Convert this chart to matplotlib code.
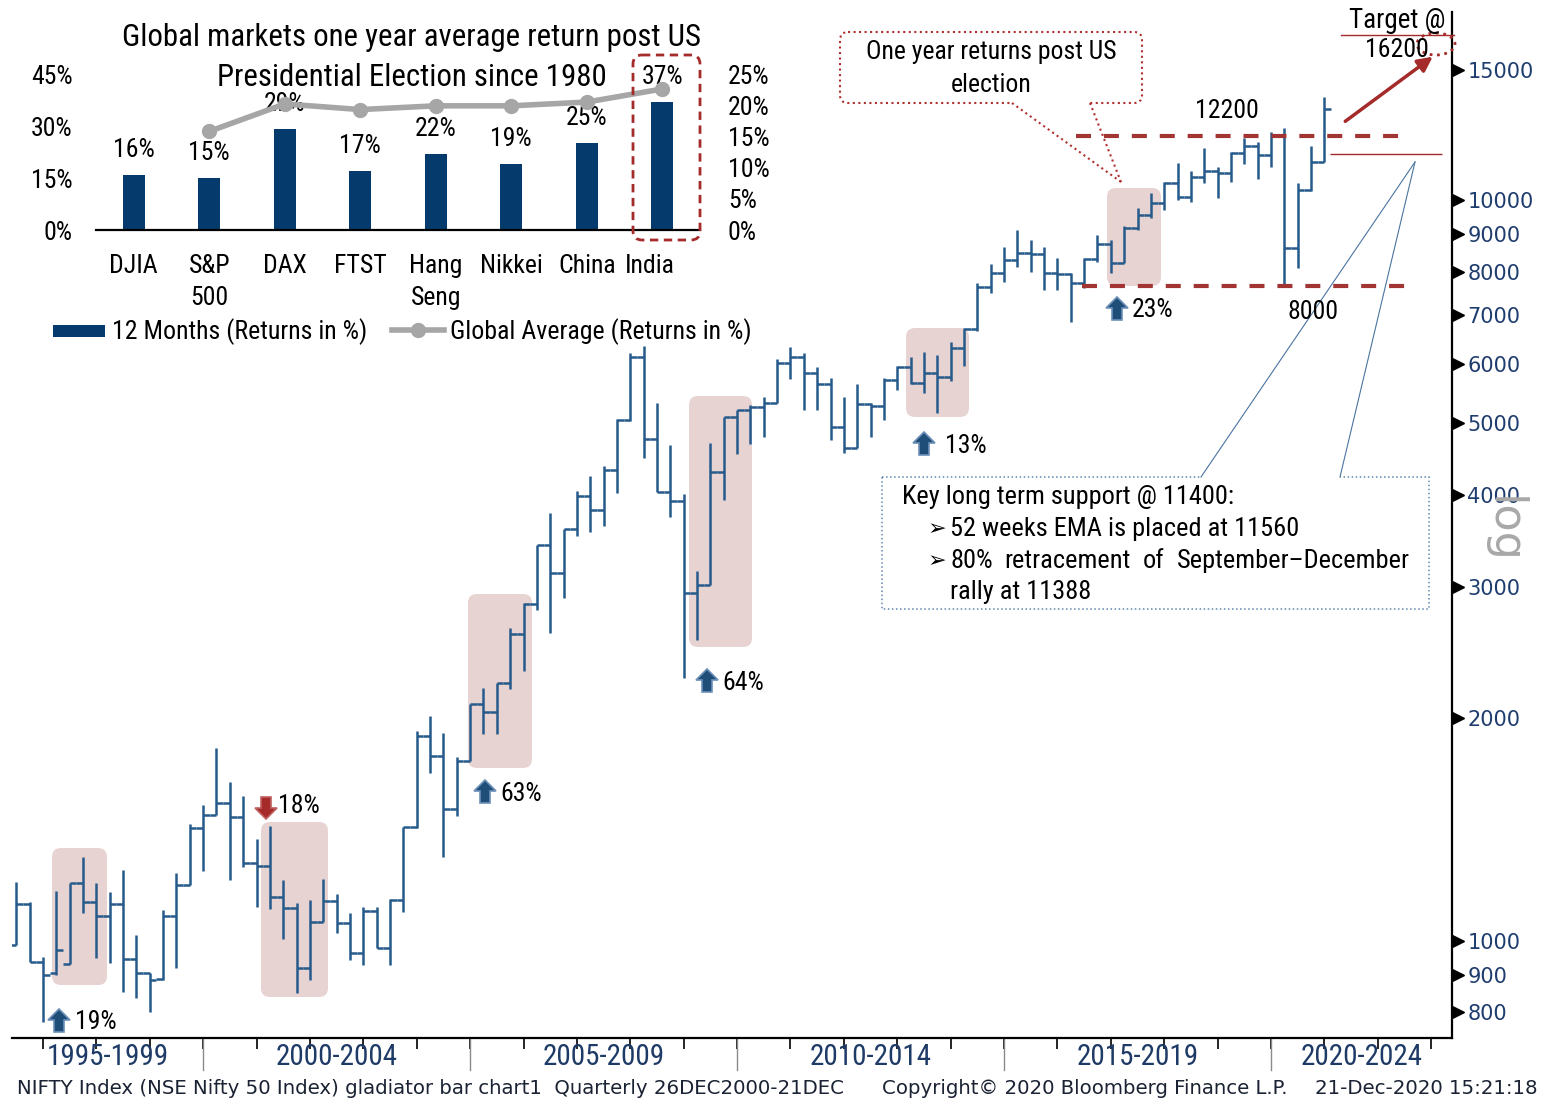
import numpy as np
import matplotlib
matplotlib.use('Agg')
import matplotlib.pyplot as plt
import matplotlib.transforms as mtransforms
from matplotlib.collections import LineCollection
from matplotlib.patches import FancyBboxPatch, FancyArrow, Ellipse, Rectangle

# ---------------- data ----------------
periods = [
    "1996Q2", "1996Q3", "1996Q4",
    "1997Q1", "1997Q2", "1997Q3", "1997Q4",
    "1998Q1", "1998Q2", "1998Q3", "1998Q4",
    "1999Q1", "1999Q2", "1999Q3", "1999Q4",
    "2000Q1", "2000Q2", "2000Q3", "2000Q4",
    "2001Q1", "2001Q2", "2001Q3", "2001Q4",
    "2002Q1", "2002Q2", "2002Q3", "2002Q4",
    "2003Q1", "2003Q2", "2003Q3", "2003Q4",
    "2004Q1", "2004Q2", "2004Q3", "2004Q4",
    "2005Q1", "2005Q2", "2005Q3", "2005Q4",
    "2006Q1", "2006Q2", "2006Q3", "2006Q4",
    "2007Q1", "2007Q2", "2007Q3", "2007Q4",
    "2008Q1", "2008Q2", "2008Q3", "2008Q4",
    "2009Q1", "2009Q2", "2009Q3", "2009Q4",
    "2010Q1", "2010Q2", "2010Q3", "2010Q4",
    "2011Q1", "2011Q2", "2011Q3", "2011Q4",
    "2012Q1", "2012Q2", "2012Q3", "2012Q4",
    "2013Q1", "2013Q2", "2013Q3", "2013Q4",
    "2014Q1", "2014Q2", "2014Q3", "2014Q4",
    "2015Q1", "2015Q2", "2015Q3", "2015Q4",
    "2016Q1", "2016Q2", "2016Q3", "2016Q4",
    "2017Q1", "2017Q2", "2017Q3", "2017Q4",
    "2018Q1", "2018Q2", "2018Q3", "2018Q4",
    "2019Q1", "2019Q2", "2019Q3", "2019Q4",
    "2020Q1", "2020Q2", "2020Q3", "2020Q4",
]
opens = [
    988, 1122, 937,
    905, 931, 1198, 1129,
    1081, 1122, 946, 905,
    888, 1081, 1190, 1420,
    1479, 1536, 1470, 1274,
    1263, 1147, 1108, 920,
    1061, 1132, 1058, 963,
    1098, 978, 1136, 1425,
    1891, 1777, 1507, 1746,
    2088, 2035, 2226, 2594,
    2850, 3418, 3135, 3594,
    3986, 3816, 4321, 5047,
    6141, 4759, 4040, 3925,
    2951, 3023, 4291, 5101,
    5207, 5251, 5326, 6020,
    6150, 5837, 5646, 4944,
    4623, 5305, 5278, 5717,
    5957, 5670, 5848, 5775,
    6318, 6704, 7624, 7963,
    8299, 8491, 8448, 7978,
    7946, 7720, 8318, 8713,
    8231, 9173, 9545, 9898,
    10552, 10104, 10750, 10953,
    10887, 11584, 11826, 11512,
    12197, 8608, 10316, 11264,
]
highs = [
    1201, 1129, 951,
    1168, 1198, 1298, 1198,
    1165, 1247, 1019, 905,
    1101, 1235, 1439, 1526,
    1822, 1639, 1569, 1373,
    1430, 1208, 1125, 1136,
    1213, 1157, 1091, 1111,
    1111, 1139, 1425, 1920,
    2012, 1909, 1770, 2088,
    2195, 2226, 2647, 2856,
    3422, 3778, 3594, 4049,
    4246, 4375, 5058, 6218,
    6353, 5326, 4671, 4008,
    3161, 4696, 5101, 5207,
    5288, 5427, 6095, 6339,
    6210, 5957, 5747, 5416,
    5646, 5316, 5747, 5977,
    6144, 6243, 6178, 6427,
    6730, 7734, 8196, 8650,
    9111, 8831, 8650, 8344,
    7978, 8344, 8971, 8831,
    9223, 9745, 10209, 10585,
    11226, 10953, 11764, 11092,
    11620, 12147, 11990, 12366,
    12498, 10552, 11826, 13786,
]
lows = [
    988, 937, 777,
    900, 931, 1091, 949,
    934, 853, 838, 802,
    886, 919, 1190, 1243,
    1479, 1208, 1259, 1111,
    1105, 1006, 851, 886,
    1061, 1025, 943, 928,
    978, 928, 1094, 1420,
    1685, 1298, 1475, 1746,
    1903, 1903, 2186, 2314,
    2797, 2602, 2901, 3520,
    3568, 3631, 4020, 5040,
    4485, 4040, 3738, 2262,
    2548, 3023, 3937, 4542,
    4685, 4793, 5326, 5729,
    5207, 5207, 4744, 4552,
    4623, 4793, 5048, 5550,
    5646, 5495, 5154, 5700,
    5970, 6650, 7497, 7758,
    8128, 8001, 7560, 7560,
    6851, 7600, 8250, 7963,
    8215, 9111, 9450, 9690,
    10000, 9950, 10557, 10053,
    10585, 11207, 10664, 11090,
    7654, 8087, 10300, 11250,
]
closes = [
    1122, 937, 900,
    972, 1198, 1129, 1081,
    1122, 946, 905, 886,
    1081, 1190, 1420, 1479,
    1536, 1470, 1274, 1263,
    1147, 1108, 920, 1061,
    1132, 1058, 963, 1098,
    978, 1136, 1425, 1891,
    1777, 1507, 1746, 2088,
    2035, 2226, 2594, 2850,
    3418, 3135, 3594, 3986,
    3816, 4321, 5047, 6141,
    4759, 4040, 3925, 2951,
    3023, 4291, 5101, 5207,
    5251, 5326, 6020, 6150,
    5837, 5646, 4944, 4623,
    5305, 5278, 5717, 5957,
    5670, 5848, 5775, 6318,
    6704, 7624, 7963, 8299,
    8491, 8448, 7978, 7946,
    7720, 8318, 8713, 8231,
    9173, 9545, 9898, 10552,
    10104, 10750, 10953, 10887,
    11584, 11826, 11512, 12197,
    8608, 10316, 11264, 13297,
]
y_ticks = [800, 900, 1000, 2000, 3000, 4000, 5000, 6000, 7000, 8000, 9000, 10000, 15000]
year_groups = ["1995-1999", "2000-2004", "2005-2009", "2010-2014", "2015-2019", "2020-2024"]
group_starts = [1995, 2000, 2005, 2010, 2015, 2020]
resistance_level = 12200
support_level = 7650
ema_level = 11560

markets = ["DJIA", "S&P\n500", "DAX", "FTST", "Hang\nSeng", "Nikkei", "China", "India"]
returns_12m = [16, 15, 29, 17, 22, 19, 25, 37]
global_avg = [np.nan, 15.8, 20.2, 19.3, 19.9, 19.9, 20.5, 22.6]
left_ticks = [0, 15, 30, 45]
right_ticks = [0, 5, 10, 15, 20, 25]

# ---------------- fonts ----------------
NARROW = ['Roboto Condensed', 'DejaVu Sans']
plt.rcParams['font.family'] = NARROW

W, H = 1543, 1100
fig = plt.figure(figsize=(W / 100, H / 100), dpi=100)

# background overlay (pink highlight boxes)
bg = fig.add_axes([0, 0, 1, 1], zorder=0)
bg.set_xlim(0, W); bg.set_ylim(H, 0); bg.axis('off')
pink_boxes = [(52, 848, 107, 985), (261, 822, 328, 997), (468, 594, 532, 768),
              (689, 396, 752, 647), (906, 328, 969, 417), (1107, 188, 1161, 286)]
for x0, y0, x1, y1 in pink_boxes:
    bg.add_patch(FancyBboxPatch((x0, y0), x1 - x0, y1 - y0,
                                boxstyle="round,pad=0,rounding_size=9",
                                fc='#e8d3d3', ec='none'))

# ---------------- main chart ----------------
L, R, T, B = 12, 1452, 12, 1038
ax = fig.add_axes([L / W, 1 - B / H, (R - L) / W, (B - T) / H], zorder=1)
ax.patch.set_alpha(0)
ax.set_yscale('log')
ax.set_ylim(739, 17950)
ax.set_xlim(1996.42, 2023.39)

xs = np.array([int(p[:4]) + int(p[5]) / 4.0 for p in periods])
hw = 0.125
segs = []
for x, o, h, l, c in zip(xs, opens, highs, lows, closes):
    segs.append([(x, l), (x, h)])
    segs.append([(x - hw, o), (x, o)])
    segs.append([(x, c), (x + hw, c)])
ax.add_collection(LineCollection(segs, colors='#255a8b', linewidths=1.8, capstyle='butt'))

for s in ['top', 'left']:
    ax.spines[s].set_visible(False)
ax.spines['bottom'].set_linewidth(1.6)
ax.spines['right'].set_linewidth(1.6)

ax.yaxis.tick_right()
ax.set_yticks(y_ticks)
ax.set_yticklabels([str(v) for v in y_ticks])
ax.yaxis.set_minor_locator(matplotlib.ticker.NullLocator())
ax.tick_params(axis='y', length=0, pad=11, labelsize=15, labelcolor='#1f3c6e')
for lab in ax.get_yticklabels():
    lab.set_fontfamily(['DejaVu Sans'])
trans_y = mtransforms.blended_transform_factory(ax.transAxes, ax.transData)
ax.plot([1.0043] * len(y_ticks), y_ticks, linestyle='none', marker='>', ms=8,
        color='black', transform=trans_y, clip_on=False)

ax.set_xticks(range(1997, 2024))
ax.set_xticklabels([])
ax.tick_params(axis='x', length=8, width=1.2, color='black', direction='out')
trans_x = mtransforms.blended_transform_factory(ax.transData, ax.transAxes)
for s in group_starts[1:]:
    ax.plot([s, s], [0, -0.031], transform=trans_x, clip_on=False, color='#8a8a8a', lw=1)
xmin, xmax = ax.get_xlim()
for s, lab in zip(group_starts, year_groups):
    c = (max(s, xmin) + min(s + 5, xmax)) / 2
    ax.text(c, -0.0185, lab, transform=trans_x, ha='center', va='center',
            fontsize=21, color='#1e3a66')

# support / resistance lines
ax.hlines(resistance_level, 2016.35, 2022.47, colors='#a33434', lw=3, linestyles=[(0, (3.6, 3.1))])
ax.hlines(support_level, 2016.46, 2022.57, colors='#a33434', lw=3, linestyles=[(0, (3.6, 3.1))])
ax.hlines(ema_level, 2021.1, 2023.2, colors='#a52a2a', lw=1)

# ---------------- foreground overlay ----------------
ov = fig.add_axes([0, 0, 1, 1], zorder=3)
ov.set_xlim(0, W); ov.set_ylim(H, 0); ov.axis('off')

def up_arrow(cx, y0, y1, fc, ec):
    ov.add_patch(FancyArrow(cx, y0, 0, y1 - y0, width=10, head_width=22, head_length=11,
                            length_includes_head=True, fc=fc, ec=ec, lw=1.2))

BLUE_A, BLUE_E = '#1f4e79', '#6d8fb8'
for cx, y0, y1, tx, ty, t in [(59, 1032, 1009, 75, 1022, '19%'),
                              (485, 803, 780, 500, 794, '63%'),
                              (707, 692, 669, 722, 683, '64%'),
                              (924, 455, 432, 945, 446, '13%'),
                              (1117, 320, 297, 1132, 310, '23%')]:
    up_arrow(cx, y0, y1, BLUE_A, BLUE_E)
    ov.text(tx, ty, t, ha='left', va='center', fontsize=18.5, color='black')
up_arrow(266, 797, 819, '#a52a2a', '#c06060')
ov.text(278, 806, '18%', ha='left', va='center', fontsize=18.5, color='black')

# callout 1
ov.add_patch(FancyBboxPatch((840, 32), 302, 71, boxstyle="round,pad=0,rounding_size=8",
                            fc='none', ec='#b03030', lw=1.5, ls=':'))
ov.plot([1014, 1088], [103, 103], color='white', lw=3)
ov.plot([1012, 1121], [103, 182], color='#b03030', lw=1.5, ls=':')
ov.plot([1090, 1121], [103, 182], color='#b03030', lw=1.5, ls=':')
ov.text(991, 52, 'One year returns post US', ha='center', va='center', fontsize=18.5)
ov.text(991, 85, 'election', ha='center', va='center', fontsize=18.5)

ov.text(1227, 111, '12200', ha='center', va='center', fontsize=18.5)
ov.text(1313, 312, '8000', ha='center', va='center', fontsize=18.5)

# target
ov.text(1397, 20, 'Target @', ha='center', va='center', fontsize=19.5)
ov.plot([1341, 1454], [34.5, 34.5], color='#a52a2a', lw=1)
ov.text(1397, 50, '16200', ha='center', va='center', fontsize=18.5)
ov.add_patch(Ellipse((1436, 44), 38, 22, fc='none', ec='#a52a2a', lw=2, ls=':'))
ov.annotate('', xy=(1435, 55), xytext=(1343, 123),
            arrowprops=dict(arrowstyle='-|>', color='#a52a2a', lw=2.5, mutation_scale=22))

# callout 2
ov.add_patch(Rectangle((882, 477), 547, 132, fc='white', ec='#5f86b0', lw=1.1, ls=':'))
ov.plot([1203, 1338], [477, 477], color='white', lw=2.5)
ov.plot([1201, 1415], [477, 162], color='#4a74a0', lw=0.8)
ov.plot([1340, 1415], [477, 162], color='#4a74a0', lw=0.8)
ov.text(902, 497, 'Key long term support @ 11400:', ha='left', va='center', fontsize=19)
ov.text(928, 529, '\u27a2', ha='left', va='center', fontsize=16, family=['DejaVu Sans'])
ov.text(950, 529, '52 weeks EMA is placed at 11560', ha='left', va='center', fontsize=19)
ov.text(928, 561, '\u27a2', ha='left', va='center', fontsize=16, family=['DejaVu Sans'])
# justified line: spread words between x=950 and x=1410
words = ['80%', 'retracement', 'of', 'September\u2013December']
wtexts = [ov.text(950, 561, w, ha='left', va='center', fontsize=19) for w in words]
renderer = fig.canvas.get_renderer()
widths = [t.get_window_extent(renderer).width for t in wtexts]
gap = (1410 - 950 - sum(widths)) / (len(words) - 1)
xpos = 950.0
for t, wd in zip(wtexts, widths):
    t.set_x(xpos)
    xpos += wd + gap
ov.text(950, 592, 'rally at 11388', ha='left', va='center', fontsize=19)

# log label
ov.text(1503, 530, 'log', rotation=-90, ha='center', va='center', fontsize=32,
        color='#a8a8a8', family=['DejaVu Sans'])

# footer
FOOT = dict(ha='left', va='center', fontsize=14.2, color='#1a2233', family=['DejaVu Sans'])
ov.text(17, 1088, 'NIFTY Index (NSE Nifty 50 Index) gladiator bar chart1  Quarterly 26DEC2000-21DEC', **FOOT)
ov.text(882, 1088, 'Copyright\u00a9 2020 Bloomberg Finance L.P.', **FOOT)
FOOT['ha'] = 'right'
ov.text(1538, 1088, '21-Dec-2020 15:21:18', **FOOT)

# ---------------- inset chart ----------------
ax_in = fig.add_axes([96 / W, 1 - 230 / H, 604 / W, 156 / H], zorder=4)
ax_in.patch.set_alpha(0)
xi = np.arange(len(markets))
ax_in.bar(xi, returns_12m, width=0.29, color='#053b6c')
ax_in.set_xlim(-0.5, len(markets) - 0.5)
ax_in.set_ylim(0, 45)
ax_in.set_yticks(left_ticks)
ax_in.set_yticklabels([f'{v}%' for v in left_ticks])
ax_in.tick_params(axis='y', length=0, pad=17, labelsize=18.5)
ax_in.set_xticks([])
for s in ['top', 'left', 'right']:
    ax_in.spines[s].set_visible(False)
ax_in.spines['bottom'].set_linewidth(1.6)
for i, v in enumerate(returns_12m):
    ax_in.annotate(f'{v}%', (i, v), xytext=(0, 18), textcoords='offset points',
                   ha='center', va='center', fontsize=18.5)
trans_c = mtransforms.blended_transform_factory(ax_in.transData, ax_in.transAxes)
for i, m in enumerate(markets):
    dx = -0.16 if m == 'India' else 0
    for k, part in enumerate(m.split('\n')):
        ax_in.text(i + dx, -(36 + 32 * k) / 156, part, transform=trans_c, ha='center',
                   va='center', fontsize=18.5)

ax_r = ax_in.twinx()
ax_r.set_ylim(0, 25)
ax_r.plot(xi, global_avg, color='#a6a6a6', lw=4, marker='o', ms=10)
ax_r.set_yticks(right_ticks)
ax_r.set_yticklabels([f'{v}%' for v in right_ticks])
ax_r.tick_params(axis='y', length=0, pad=20, labelsize=18.5)
for s in ax_r.spines.values():
    s.set_visible(False)

# India highlight box, title, legend
ov2 = fig.add_axes([0, 0, 1, 1], zorder=5)
ov2.set_xlim(0, W); ov2.set_ylim(H, 0); ov2.axis('off')
ov2.add_patch(FancyBboxPatch((633, 55), 67, 185, boxstyle="round,pad=0,rounding_size=9",
                             fc='none', ec='#a52a2a', lw=2, ls=(0, (3, 2))))
ov2.text(412, 37, 'Global markets one year average return post US', ha='center', va='center', fontsize=22.2)
ov2.text(412, 77, 'Presidential Election since 1980', ha='center', va='center', fontsize=22.2)
ov2.add_patch(Rectangle((53, 325), 52, 12, fc='#053b6c', ec='none'))
ov2.text(112, 332, '12 Months (Returns in %)', ha='left', va='center', fontsize=18.6)
ov2.plot([392, 444], [330, 330], color='#a6a6a6', lw=4)
ov2.plot([418], [330], marker='o', ms=10, color='#a6a6a6')
ov2.text(450, 332, 'Global Average (Returns in %)', ha='left', va='center', fontsize=18.6)

fig.savefig('out.png', dpi=100)
